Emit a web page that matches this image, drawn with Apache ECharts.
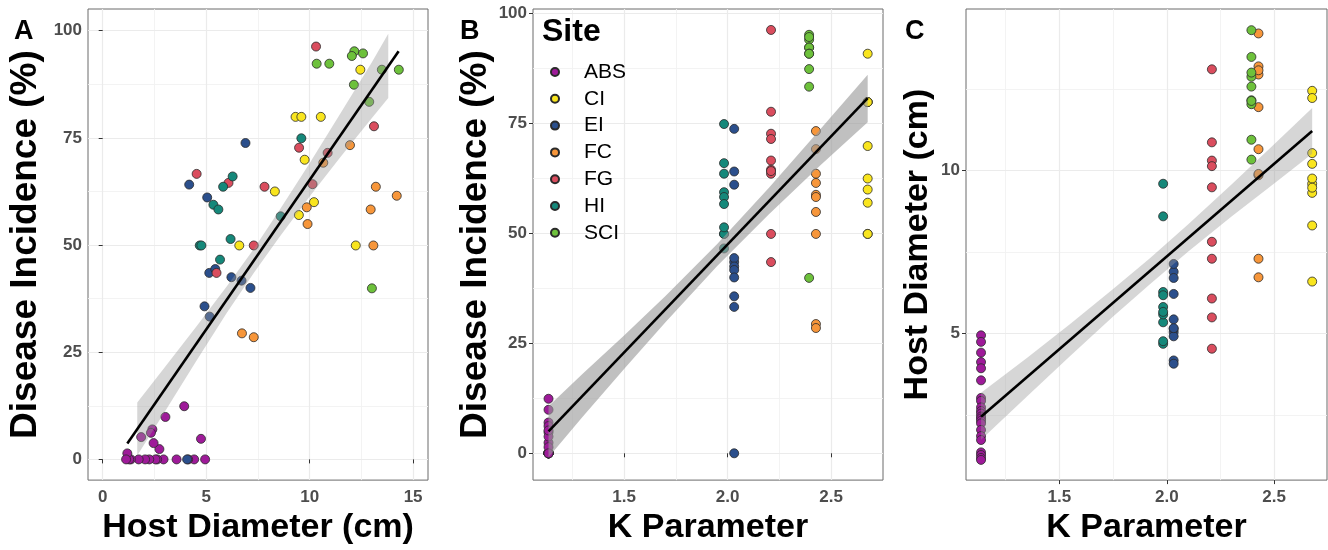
<!DOCTYPE html>
<html><head><meta charset="utf-8">
<script src="https://cdn.jsdelivr.net/npm/echarts@6/dist/echarts.min.js"></script>
<style>html,body{margin:0;padding:0;background:#fff}#c{width:1328px;height:550px}</style>
</head><body><div id="c"></div>
<script>
// ---- data ----
const sites = ['ABS', 'CI', 'EI', 'FC', 'FG', 'HI', 'SCI'];
const siteColors = ['#9E1A99', '#F9E51E', '#2B4F8C', '#F7963A', '#DA4D5E', '#15887A', '#6DC13B'];
const siteK = [1.135, 2.677, 2.032, 2.427, 2.21, 1.983, 2.394];

const diamABS = [4.95, 4.75, 4.42, 4.13, 3.94, 3.57, 3.03, 2.94, 2.74, 2.63, 2.55, 2.46, 2.40, 2.33, 2.25, 2.05, 1.86, 1.74, 1.36, 1.28, 1.19, 1.13];
const incABS  = [0, 4.8, 0, 0, 12.4, 0, 9.9, 0, 2.4, 0, 0, 3.8, 7.0, 6.2, 0, 0, 5.2, 0, 0, 0, 1.4, 0];
const diamCI = [12.45, 9.32, 9.6, 10.54, 9.76, 8.32, 10.21, 9.48, 6.6, 12.23];
const incCI  = [90.9, 79.9, 79.9, 79.9, 69.9, 62.5, 60.0, 57.0, 49.9, 49.9];
const diamEI = [6.9, 4.18, 5.05, 5.15, 5.44, 6.22, 6.71, 7.14, 4.92, 5.17, 4.08];
const incEI  = [73.8, 64.1, 61.1, 43.5, 44.4, 42.5, 41.7, 40.0, 35.7, 33.3, 0];
const diamFC = [11.95, 10.66, 13.2, 14.21, 9.86, 12.95, 9.9, 13.08, 6.73, 7.3];
const incFC  = [73.3, 69.2, 63.6, 61.5, 58.8, 58.3, 54.9, 49.9, 29.4, 28.5];
const diamFG = [10.31, 13.11, 9.49, 10.87, 4.54, 6.08, 7.82, 10.14, 7.3, 5.5];
const incFG  = [96.3, 77.7, 72.7, 71.5, 66.6, 64.5, 63.6, 64.2, 49.9, 43.5];
const diamHI = [9.6, 6.28, 5.82, 5.35, 5.59, 8.6, 4.69, 4.77, 6.18, 5.67];
const incHI  = [74.9, 66.0, 63.6, 59.4, 58.3, 56.7, 49.9, 49.9, 51.4, 46.6];
const diamSCI = [12.16, 12.04, 12.58, 10.34, 10.95, 13.49, 14.31, 12.14, 12.88, 13.01];
const incSCI  = [95.2, 94.1, 94.7, 92.3, 92.3, 90.9, 90.9, 87.4, 83.4, 39.9];

const siteDiam = [diamABS, diamCI, diamEI, diamFC, diamFG, diamHI, diamSCI];
const siteInc = [incABS, incCI, incEI, incFC, incFG, incHI, incSCI];

// regression lines (endpoints)
const fitA_x = [1.19, 14.3];   const fitA_y = [3.7, 95.2];
const fitB_x = [1.135, 2.677]; const fitB_y = [5.0, 80.8];
const fitC_x = [1.135, 2.677]; const fitC_y = [2.45, 11.22];

// confidence ribbons
const bandA_x  = [1.67, 3, 4.5, 6, 7.3, 8.5, 10, 11.5, 13, 13.8];
const bandA_lo = [0.9, 11.1, 22.8, 34.2, 43.5, 51.6, 61.3, 70.6, 79.6, 84.3];
const bandA_hi = [13.3, 21.5, 30.8, 40.4, 49.1, 57.8, 69.1, 80.8, 92.6, 99.3];
const bandB_x  = [1.135, 1.3, 1.5, 1.7, 1.95, 2.2, 2.45, 2.677];
const bandB_lo = [-0.9, 8.3, 19.2, 29.8, 42.6, 54.4, 65.6, 75.3];
const bandB_hi = [10.7, 18.1, 26.8, 35.8, 47.6, 60.4, 73.8, 86.1];
const bandC_x  = [1.135, 1.35, 1.55, 1.75, 1.92, 2.1, 2.3, 2.5, 2.677];
const bandC_lo = [1.75, 3.08, 4.32, 5.53, 6.51, 7.52, 8.59, 9.61, 10.52];
const bandC_hi = [3.19, 4.26, 5.30, 6.37, 7.31, 8.36, 9.57, 10.81, 11.92];

// ticks
const diamTicks = [0, 5, 10, 15];   const diamMinor = [2.5, 7.5, 12.5];
const incTicks = [0, 25, 50, 75, 100]; const incMinor = [12.5, 37.5, 62.5, 87.5];
const kTicks = [1.5, 2.0, 2.5];     const kMinor = [1.25, 1.75, 2.25];
const diamYTicks = [5, 10];         const diamYMinor = [2.5, 7.5, 12.5];

// ---- chart ----
const FONT = 'Liberation Sans, Arial, sans-serif';
const chart = echarts.init(document.getElementById('c'), null, {renderer: 'canvas'});

const grids = [
  {left: 88, top: 9, width: 340, height: 478},
  {left: 533, top: 9, width: 350, height: 478},
  {left: 966, top: 9, width: 361, height: 478}
].map(g => Object.assign(g, {show: true, borderColor: '#6b6b6b', borderWidth: 1, backgroundColor: '#fff', containLabel: false}));

const nameStyle = {fontSize: 34, fontWeight: 'bold', color: '#000', fontFamily: FONT};
const nameStyleBig = {fontSize: 37, fontWeight: 'bold', color: '#000', fontFamily: FONT};
const labStyle = {color: '#4D4D4D', fontWeight: 'bold', fontSize: 17, fontFamily: FONT};

function majorAxis(gi, min, max, ticks, name, gap, fmt, nStyle, lmargin) {
  return {
    gridIndex: gi, type: 'value', min: min, max: max,
    name: name, nameLocation: 'middle', nameGap: gap, nameTextStyle: nStyle,
    axisLine: {show: false},
    axisTick: {show: true, length: 4, customValues: ticks, lineStyle: {color: '#333', width: 1}},
    axisLabel: Object.assign({customValues: ticks, margin: lmargin, formatter: fmt}, labStyle),
    splitLine: {show: true, lineStyle: {color: '#EBEBEB', width: 1.2}},
    z: 1
  };
}
function minorAxis(gi, min, max, ticks) {
  return {
    gridIndex: gi, type: 'value', min: min, max: max,
    axisLine: {show: false},
    axisTick: {show: false, customValues: ticks},
    axisLabel: {show: false},
    splitLine: {show: true, lineStyle: {color: '#F2F2F2', width: 0.9}},
    z: 0
  };
}
const fmtInt = v => String(v);
const fmt1 = v => v.toFixed(1);

const xAxes = [
  majorAxis(0, -0.71, 15.72, diamTicks, 'Host Diameter (cm)', 28, fmtInt, nameStyle, 9),
  minorAxis(0, -0.71, 15.72, diamMinor),
  majorAxis(1, 1.06, 2.751, kTicks, 'K Parameter', 28, fmt1, nameStyle, 9),
  minorAxis(1, 1.06, 2.751, kMinor),
  majorAxis(2, 1.065, 2.746, kTicks, 'K Parameter', 28, fmt1, nameStyle, 9),
  minorAxis(2, 1.065, 2.746, kMinor)
];
const yAxes = [
  majorAxis(0, -4.83, 105.06, incTicks, 'Disease Incidence (%)', 44, fmtInt, nameStyleBig, 6),
  minorAxis(0, -4.83, 105.06, incMinor),
  majorAxis(1, -6.1, 101.07, incTicks, 'Disease Incidence (%)', 39, fmtInt, nameStyleBig, 6),
  minorAxis(1, -6.1, 101.07, incMinor),
  majorAxis(2, 0.51, 14.96, diamYTicks, 'Host Diameter (cm)', 31, fmtInt, nameStyle, 6),
  minorAxis(2, 0.51, 14.96, diamYMinor)
];

const series = [];
function pts(xs, ys) { return xs.map((x, i) => [x, ys[i]]); }
function constPts(k, ys) { return ys.map(y => [k, y]); }

for (let s = 0; s < sites.length; s++) {
  const base = {
    type: 'scatter', name: sites[s], symbol: 'circle', symbolSize: 9, z: 2,
    itemStyle: {color: siteColors[s], borderColor: '#2a2a2a', borderWidth: 0.8, opacity: 1},
    emphasis: {disabled: true}
  };
  series.push(Object.assign({}, base, {xAxisIndex: 0, yAxisIndex: 0, data: pts(siteDiam[s], siteInc[s])}));
  series.push(Object.assign({}, base, {xAxisIndex: 2, yAxisIndex: 2, data: constPts(siteK[s], siteInc[s])}));
  series.push(Object.assign({}, base, {xAxisIndex: 4, yAxisIndex: 4, data: constPts(siteK[s], siteDiam[s])}));
}

function ribbon(axisIdx, xs, lo, hi, fill) {
  return {
    type: 'custom', xAxisIndex: axisIdx, yAxisIndex: axisIdx, z: 3, silent: true,
    data: [[xs[0], lo[0]]],
    renderItem: function (params, api) {
      const p = [];
      for (let i = 0; i < xs.length; i++) p.push(api.coord([xs[i], hi[i]]));
      for (let i = xs.length - 1; i >= 0; i--) p.push(api.coord([xs[i], lo[i]]));
      return {type: 'polygon', shape: {points: p}, style: {fill: fill}};
    }
  };
}
series.push(ribbon(0, bandA_x, bandA_lo, bandA_hi, 'rgba(153,153,153,0.4)'));
series.push(ribbon(2, bandB_x, bandB_lo, bandB_hi, 'rgba(153,153,153,0.62)'));
series.push(ribbon(4, bandC_x, bandC_lo, bandC_hi, 'rgba(153,153,153,0.4)'));

function fitLine(axisIdx, xs, ys) {
  return {type: 'line', xAxisIndex: axisIdx, yAxisIndex: axisIdx, z: 4, silent: true,
    symbol: 'none', data: pts(xs, ys), lineStyle: {color: '#000', width: 2.6}};
}
series.push(fitLine(0, fitA_x, fitA_y));
series.push(fitLine(2, fitB_x, fitB_y));
series.push(fitLine(4, fitC_x, fitC_y));

chart.setOption({
  animation: false,
  backgroundColor: '#fff',
  textStyle: {fontFamily: FONT},
  title: [
    {text: 'A', left: 9, top: 13, textStyle: {fontSize: 27, fontWeight: 'bold', color: '#000', fontFamily: FONT}},
    {text: 'B', left: 455, top: 13, textStyle: {fontSize: 27, fontWeight: 'bold', color: '#000', fontFamily: FONT}},
    {text: 'C', left: 900, top: 13, textStyle: {fontSize: 27, fontWeight: 'bold', color: '#000', fontFamily: FONT}},
    {text: 'Site', left: 537, top: 11, textStyle: {fontSize: 32, fontWeight: 'bold', color: '#000', fontFamily: FONT}}
  ],
  legend: {
    data: sites, orient: 'vertical', left: 545, top: 56,
    itemWidth: 8, itemHeight: 8, itemGap: 4.8, icon: 'circle',
    selectedMode: false,
    textStyle: {fontSize: 21, lineHeight: 22, color: '#000', fontFamily: FONT, padding: [0, 0, 0, 20]}
  },
  grid: grids,
  xAxis: xAxes,
  yAxis: yAxes,
  series: series
});
</script>
</body></html>
